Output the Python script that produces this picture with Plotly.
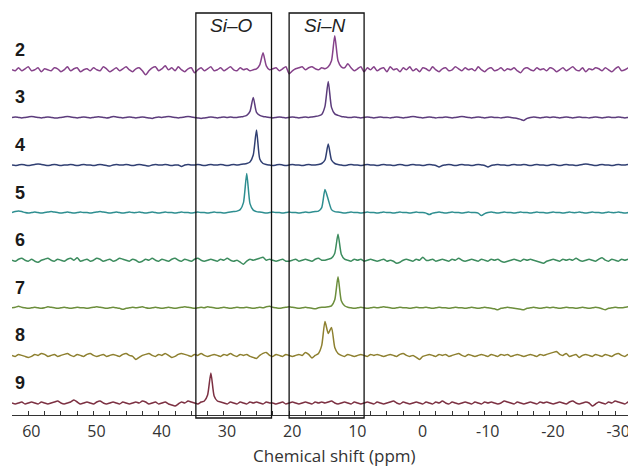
import plotly.graph_objects as go

# Chemical-shift grid (ppm), 0.5 ppm sampling, 62.5 -> -33.0
ppm = [62.5 - 0.5 * i for i in range(192)]

samples = ["2", "3", "4", "5", "6", "7", "8", "9"]

tick_vals = [60, 50, 40, 30, 20, 10, 0, -10, -20, -30]
tick_text = ["60", "50", "40", "30", "20", "10", "0", "-10", "-20", "-30"]

# Intensities (arbitrary units ~ px), rows of 16 points
spec_2 = [
    0, -1, 2, -1, 1, 3, -1, 0, 2, -2, 1, 0, -1, 2, 1, -2,
    0, 3, -1, 1, 2, -2, 0, 1, -1, 2, 0, -1, 3, 1, -2, 0,
    2, -1, 1, 3, 0, -2, 1, 2, -1, -5, -1, 2, 3, -1, 1, 4,
    0, 2, -1, 3, 0, -2, 1, 2, -3, 0, 2, -1, 1, 3, -1, 0,
    2, -1, 1, 3, 0, -1, 2, 0, 1, -1, 0, 1, 5, 17, 4, 0,
    1, 2, -1, 1, 3, -4, -1, 1, 2, 3, 0, 2, 3, 1, 0, 2,
    1, 3, 9, 34, 9, 3, 2, 6, 2, -1, 1, 3, -2, 2, 0, 3,
    -1, 1, 2, -2, 3, 0, 1, -2, 2, 0, 3, -1, 1, -2, 2, 1,
    -1, 3, 0, -2, 1, 2, -1, 0, 3, 1, -1, 2, 0, 1, -1, 3,
    0, -2, 1, 2, -1, 0, 2, -1, 1, 0, 2, -1, -3, 1, 2, 0,
    -1, 2, 0, 1, -1, 2, 1, -2, 0, 2, -1, 1, 3, 0, -1, 2,
    -2, 1, 0, 2, 1, -1, 2, 0, -2, 1, 3, -1, 0, 2, 5, 1,
]
spec_3 = [
    0, 0.5, 0, -0.5, 0, 0.5, 1, 0.5, 0, -0.5, 0, 0.5, 0, -0.5, -0.5, 0,
    0.5, 1, 0.5, 0, -0.5, 0, 0.5, 0, -0.5, 0, 0.5, 0.5, 0, -0.5, 0, 1,
    0.5, 0, -0.5, 0, 0.5, 0, -0.5, 0, 0.5, 0, -0.5, -1, 0, 0.5, 0, 0.5,
    1, 0.5, 0, -0.5, 0, 0.5, 1, 0.5, 0, -0.5, -1, -0.5, 0, 0.5, 0, -0.5,
    0, 0.5, 0, 0.5, 0, 0, 0.5, 1, 2, 6, 20, 5, 2, 1, 0.5, 0,
    -0.5, 0, 0.5, 0, -0.5, 0, 0.5, 0, -0.5, 0, 0.5, 0, 0.5, 1, 1.5, 3,
    11, 36, 10, 3.5, 2, 1, 0.5, 0, 0, 0.5, 0, -0.5, 0, 0.5, 0, -0.5,
    0, 0.5, 0, 0, -0.5, 0, 0.5, 0, -0.5, 0, 0.5, 1, 0.5, 0, -0.5, 0,
    0.5, 0, -0.5, 0, 0, 0.5, 0, -0.5, 0, 0.5, 1, 0.5, 0, -0.5, 0, 0.5,
    0, -0.5, 0, 0.5, 0, 0, -0.5, 0, 0.5, 0, -0.5, -1, -2, -3, -1, 0,
    0.5, 0, -0.5, 0, 0.5, 0, 0.5, 0, -0.5, 0, 0.5, 0, -0.5, 0, 0.5, 0,
    0, -0.5, 0, 0.5, 0, -0.5, 0, 0.5, 0, 0, 0.5, 0, -0.5, 0, 0.5, 0,
]
spec_4 = [
    0, -0.5, 0, 0.5, 0, -0.5, 0, 0.5, 1, 0.5, 0, -0.5, 0, 0.5, 0, -0.5,
    0, 0, 0.5, 0, -0.5, 0, 0.5, 0, 0, -0.5, 0, 0.5, 0, -0.5, -1, 0,
    0.5, 0, 0, 0.5, 0, -0.5, 0, 0.5, 0, -0.5, -1, 0, 0.5, 0, 0, 0.5,
    0, -0.5, 0, 0, -1.5, 0, 0.5, 0, 0, 0.5, 0, -0.5, 0, 0.5, 0, 0,
    0.5, 0, -0.5, 0, 0.5, 0, 0.5, 1, 1.5, 3, 10, 35, 6, 1.5, 0.5, 0,
    -0.5, 0, 0.5, 0, -0.5, 0, 0.5, 0, 0, -0.5, 0, 0.5, 0, 0, 0.5, 1.5,
    5, 21, 5, 1.5, 0.5, 0, -0.5, 0, 0.5, 0, 0, -0.5, 0, 0.5, 0, 0,
    -0.5, 0, 0.5, 0, 0, -0.5, 0, 0.5, 0, -0.5, 0, 0.5, 0, 0, -0.5, 0,
    0.5, 0, -0.5, -2, -0.5, 0, 0.5, 0, -0.5, 0, 0.5, 0, 0, -0.5, 0, 0.5,
    0, -0.5, -2, -0.5, 0, 0.5, 0, 0, -0.5, 0, 0.5, 0, 0, 0.5, 0, -0.5,
    0, 0.5, 0, 0, -0.5, 0, 0.5, 0, -0.5, 0, 0.5, 0, 0, -0.5, 0, 0.5,
    1, 0.5, 0, -0.5, 0, 0.5, 0, 0, -0.5, 0, 0.5, 0, 0, 0.5, 0, -0.5,
]
spec_5 = [
    0, 1, 1.5, 1, 0, -0.5, 0, 0.5, 0, -0.5, 0, 0.5, 1, 0.5, 0, -0.5,
    0, 0.5, 0, -0.5, 0, 0.5, 0, 0, -0.5, 0, 0.5, 1, 0.5, 0, -0.5, 0,
    0.5, 0, -0.5, 0, 0.5, 0, 0, 0.5, 0, -0.5, 0, 0.5, 0, -0.5, 0, 0.5,
    0, 0, -0.5, 0, 0.5, 0, 0, -0.5, 0, 0.5, 0, 0, -0.5, 0, 0.5, 0,
    0, -0.5, 0, 0.5, 1, 1.5, 3, 10, 39, 9, 2.5, 1, 0.5, 0, -0.5, 0,
    0.5, 0, 0, -0.5, 0, 0.5, 0, 0, -0.5, 0, 0.5, 0, 0.5, 1, 1.5, 5,
    23, 13, 3, 1, 0.5, 0, -0.5, 0, 0.5, 0, 0, -0.5, 0, 0.5, 0, 0,
    -0.5, 0, 0.5, 0, 0, -0.5, 0, 0.5, 0, 0, -0.5, 0, 0.5, 0, 0, -0.5,
    -2, -0.5, 0, 0.5, 0, -0.5, 0, 0.5, 0, 0, -0.5, 0, 0.5, 0, 0, -0.5,
    -3, -1, 0, 0.5, 0, -0.5, 0, 0.5, 0, 0, -0.5, 0, 0.5, 0, 0, -0.5,
    0, 0.5, 0, 0, -0.5, 0, 0.5, 0, 0, -0.5, 0, 0.5, 0, 0, 0.5, 0,
    -0.5, 0, 0.5, 0, 0, -0.5, 0, 0.5, 0, 0, 0.5, 0, -0.5, 0, 0.5, 0,
]
spec_6 = [
    0, -1, 1, 2, 0, -1, 1, -1, -2, 0, 1, 2, 0, -1, 1, 0,
    -1, 1, 2, 0, 2.5, -1, 0, 1, -1, 0, 2, 1, -1, 0, 1, -1,
    0, 2, 1, 0, -1, 1, 0, -2, -1, 1, 0, 2, 0, -1, 1, 0,
    -1, 1, 2, 0, -1, 1, 0, -1, 1, 2, 0, -1, 0, 1, 0, -1,
    1, 0, 2, 0, -1, 0, -2, -4, -1, 1, 0, 1, 2, 3, 0, 1,
    0, -1, 0, 1, -1, -1, 0, 1, -1, 0, 1, 0, -1, 1, 2, 0,
    0, 1, 2, 7, 26, 6, 1, 0, -1, 1, 0, 1, -1, 0, 1, 0,
    -1, 0, 1, -1, 0, -1, -3, -2, 0, 1, 0, -1, 1, 0, 3, 0,
    0, 1, -1, 0, 1, 0, -1, 1, 0, 2, 0, -1, 0, 1, 0, -1,
    1, 0, -1, 1, 0, 1, -1, -2, -1, 0, 1, 0, -1, 1, 0, 1,
    0, -1, -2, -3, -1, 0, 1, 0, -1, 1, 0, 1, 0, 2, 0, -1,
    0, 1, 0, -1, 1, 2.5, 0, -1, 1, 0, -1, 1, 0, 1, -1, 0,
]
spec_7 = [
    0, 0.5, 1.5, 0.5, 0, -0.5, 0, 0.5, 0, -0.5, 0, 1, 0.5, 0, -0.5, 0,
    0.5, 0, -0.5, 0, 0.5, 0, 0, -0.5, 0, 0.5, 1, 0.5, 0, -0.5, 0, 0.5,
    0, -0.5, -1.5, -0.5, 0, 0.5, 0, 0.5, 1, 0, -0.5, 0, 0.5, 0, -0.5, 0,
    0.5, 0, -0.5, 0, 0.5, 1, 0.5, 0, -0.5, 0, 0.5, 0, 1, 0.5, 0, -0.5,
    0, 0.5, 0, -0.5, 0, 0.5, 0, 0, 0.5, 0, -0.5, 0, 0.5, 0, 1, 1.5,
    0.5, 0, -0.5, 0, 0.5, 1, 0.5, 0, -0.5, 0, 0.5, 0, -0.5, -1, 0, 0.5,
    0.5, 1, 2, 8, 31, 7, 2, 0.5, 0, -0.5, 0, 0.5, 0, -0.5, 0, 0.5,
    0, 0.5, 1, 0.5, 0, -0.5, 0, 0.5, 0, 0, -0.5, 0, 0.5, 0, 0, 0.5,
    0, -0.5, 0, 0.5, 0, 0, -0.5, 0, 0.5, 0, 0, -0.5, 0, 0.5, 0, -0.5,
    0, 0.5, 0, -0.5, -1, -2, -0.5, 0, 0.5, 0, -0.5, -1, -1.5, -2, -0.5, 0,
    0.5, 0, -0.5, 0, 0.5, 0, 0.5, 0, -0.5, 0, 0.5, 0, 0, -0.5, 0, 0.5,
    0, -0.5, 0, 0.5, 0, -1, -2, -0.5, 0, 0.5, 0, 0, 0.5, 1, 0.5, 0,
]
spec_8 = [
    0, -1, 1, 0, -1, -2, -1, 1, 0, 2, 1, -1, 0, 1, -1, 0,
    1, 2, 0, -1, 1, 0, -1, 1, 2, 0, -1, 0, 1, -1, 0, 1,
    0, -1, 1, 2, 0, -1, -4, -2, 0, 1, 2, 0, -1, 1, 0, 2,
    0, -2, -1, 1, 2, 1, 0, -1, 1, 0, 2, 0, -1, 0, 1, 0,
    -1, 1, 0, 2, 0, -1, 1, 0, 1, -1, -2, -3, 0, 2, 3, 0,
    -1, 1, 0, -1, 1, 0, -1, 0, 1, 0, 3, 1, -2.5, 0, 2, 10,
    34, 22, 28, 8, 2, 0, -1, 1, 0, -1, 0, 1, 0, -1, 1, 0,
    1, 0, -1, 0, 1, 0, -1, 1, 2, 0, -1, 0, -2, -4, -1, 0,
    1, 0, -1, 1, 0, 1, -1, 0, 1, 2, 0, -1, 1, 0, -1, 0,
    1, 0, -1, 1, 0, -1, 1, 0, 1, -1, 0, 1, 0, -1, 0, 1,
    0, -1, 1, 0, 1, 2, 3, 4, 1, 0, 2, -1, 0, 1, -2, 0,
    1, 0, -1, 1, 0, -1, 1, 0, -1, 1, 2, 0, -1, 1, 0, -1,
]
spec_9 = [
    0, -1, 0, 1, -1, 0, 1, 0, -1, 1, 0, -1, 0, 1, 2, 0,
    -1, 0, 1, 3, 1, -1, 0, 1, 0, -1, 1, 2, 0, -1, 0, 1,
    0, -1, 1, 0, -1, 0, 1, 0, 2, 1, -1, 0, 1, -1, 0, 1,
    -1, -2, -3, -1, 1, 0, 2, 1, 0, -1, 1, 2, 8, 30, 7, 2,
    1, 0, -1, 1, 0, -1, 1, 0, -1, 1, 0, 1, 0, -1, 1, 0,
    0, -1, 0, 1, -1, 0, 1, 0, -1, 0, 1, 0, -1, 1, 0, 1,
    0, 1, 2, 0, -1, 0, 1, 0, -1, 1, 0, -1, 0, 1, 0, -1,
    1, 0, -1, 0, 1, 2, 0, -1, 1, 0, -1, 0, 1, 0, -1, 1,
    0, -1, 1, 0, 2, 0, -1, 1, 0, -1, 0, 1, 0, -1, 1, 0,
    -1, 1, 0, 1, 0, -1, 0, 2, 1, 0, -1, 1, 0, -1, 0, 1,
    0, -1, 1, 0, 1, 0, -1, 0, 1, 0, -1, 1, 2, 0, -1, 0,
    1, 0, -3, -1, 1, 0, -1, 1, 0, 2, 1, 0, -1, 1, 0, -1,
]

spectra = [spec_2, spec_3, spec_4, spec_5, spec_6, spec_7, spec_8, spec_9]
colors = ["#86428a", "#5c3c7c", "#303f72", "#2e8e90", "#3c8c5e", "#6c8e3c", "#8e8030", "#7c3042"]

# Box regions (ppm) and labels
box_names = ["Si\u2013O", "Si\u2013N"]
box_left = [34.3, 20.0]
box_right = [22.7, 8.5]
box_label_x = [28.9, 14.5]

STEP = 47.6   # vertical stacking step
BASE = 12.0

fig = go.Figure()
for k, (name, ys, col) in enumerate(zip(samples, spectra, colors)):
    n = min(len(ys), len(ppm))
    off = BASE + STEP * (len(samples) - 1 - k)
    fig.add_trace(go.Scatter(
        x=ppm[:n], y=[v + off for v in ys[:n]], mode="lines", name=name,
        line=dict(color=col, width=1.5, shape="spline", smoothing=0.6),
        hoverinfo="skip", showlegend=False,
    ))
    fig.add_annotation(x=61.3, y=off + 20, xref="x", yref="y", text="<b>%s</b>" % name,
                       showarrow=False, xanchor="center", yanchor="middle",
                       font=dict(family="Liberation Sans, Arial", size=18, color="#1a1a1a"))

for nm, x0, x1, xl in zip(box_names, box_left, box_right, box_label_x):
    fig.add_shape(type="rect", xref="x", yref="paper", x0=x0, x1=x1, y0=-0.0074, y1=0.9877,
                  line=dict(color="#111111", width=1.3), fillcolor="rgba(0,0,0,0)")
    fig.add_annotation(x=xl, y=0.9558, xref="x", yref="paper", text="<i>%s</i>" % nm,
                       showarrow=False, xanchor="center", yanchor="middle",
                       font=dict(family="Liberation Sans, Arial", size=19, color="#222222"))

fig.add_annotation(x=13.1, y=-0.1007, xref="x", yref="paper", text="Chemical shift (ppm)",
                   showarrow=False, xanchor="center", yanchor="middle",
                   font=dict(family="Open Sans", size=17, color="#333333"))

# The page body adds an 8 px offset; the figure is sized to fit the window.
fig.update_layout(
    width=628, height=459,
    margin=dict(l=4, r=0, t=0, b=52),
    paper_bgcolor="white", plot_bgcolor="white",
    xaxis=dict(range=[62.5, -33.2], tickmode="array", tickvals=tick_vals, ticktext=tick_text,
               ticks="inside", ticklen=4,
               tickcolor="#333333", showline=True, linecolor="#333333", linewidth=1,
               showgrid=False, zeroline=False, ticklabelshift=-3, ticklabelstandoff=2,
               tickfont=dict(family="Open Sans", size=16, color="#333333"),
               minor=dict(tickmode="linear", dtick=2.5, tick0=0, ticks="inside", ticklen=4,
                          tickcolor="#333333", showgrid=False)),
    yaxis=dict(range=[0, 407], visible=False, showgrid=False, zeroline=False),
)

fig.write_html("out.html")
